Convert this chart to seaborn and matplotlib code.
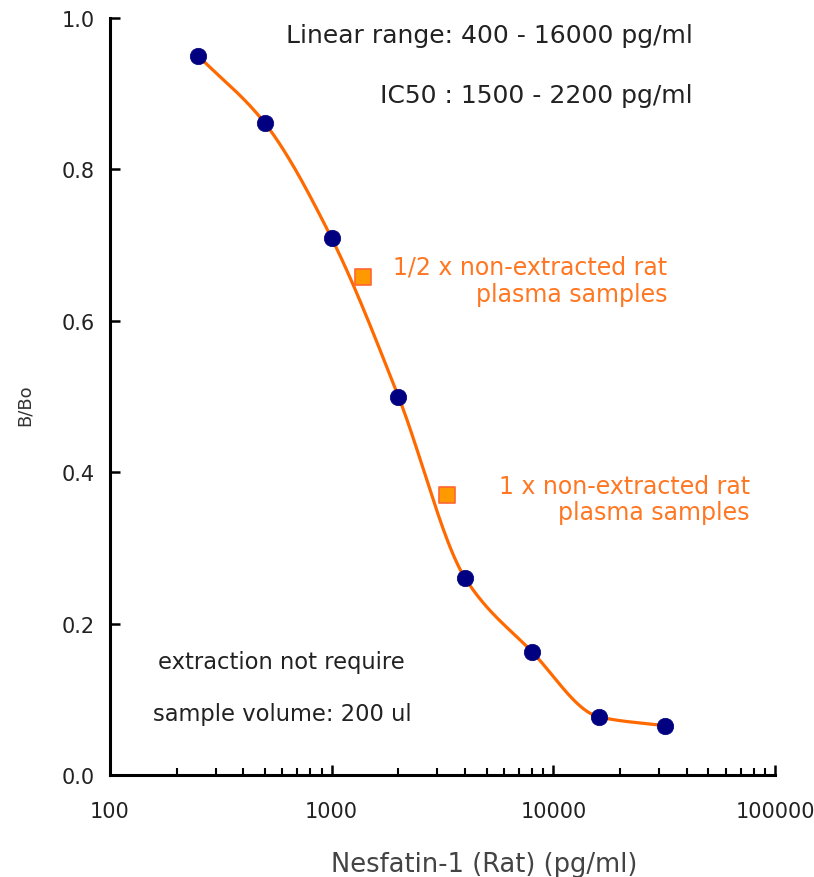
import numpy as np
import pandas as pd
import matplotlib
matplotlib.use("Agg")
import matplotlib.pyplot as plt
import seaborn as sns
from matplotlib.ticker import LogLocator, FixedLocator, NullFormatter

# ---- data ----
conc = [250, 500, 1000, 2000, 4000, 8000, 16000, 32000]
bbo = [0.950, 0.861, 0.709, 0.500, 0.260, 0.163, 0.077, 0.065]
sample_conc = [1390, 3320]
sample_bbo = [0.658, 0.370]
x_ticks = [100, 1000, 10000, 100000]
y_ticks = [0.0, 0.2, 0.4, 0.6, 0.8, 1.0]

sns.set_theme(style="white")
plt.rcParams['font.family'] = ['DejaVu Sans']

W, H = 814, 878
fig = plt.figure(figsize=(W / 100, H / 100), dpi=100)
ax = fig.add_axes([110 / W, 1 - 776 / H, (775 - 110) / W, (776 - 19) / H])

# smooth monotone (PCHIP) curve through the standard points, in log-x
def pchip(x, y, xs):
    x = np.asarray(x, float); y = np.asarray(y, float)
    h = np.diff(x); d = np.diff(y) / h
    n = len(x); m = np.zeros(n)
    for k in range(1, n - 1):
        if d[k - 1] * d[k] > 0:
            w1 = 2 * h[k] + h[k - 1]; w2 = h[k] + 2 * h[k - 1]
            m[k] = (w1 + w2) / (w1 / d[k - 1] + w2 / d[k])
    m[0] = d[0]; m[-1] = d[-1]
    idx = np.clip(np.searchsorted(x, xs) - 1, 0, n - 2)
    t = (xs - x[idx]) / h[idx]
    h00 = 2 * t**3 - 3 * t**2 + 1; h10 = t**3 - 2 * t**2 + t
    h01 = -2 * t**3 + 3 * t**2; h11 = t**3 - t**2
    return h00 * y[idx] + h10 * h[idx] * m[idx] + h01 * y[idx + 1] + h11 * h[idx] * m[idx + 1]

lx = np.log10(conc)
xs = np.linspace(lx[0], lx[-1], 400)
curve = pd.DataFrame({"x": 10 ** xs, "y": pchip(lx, bbo, xs)})
std = pd.DataFrame({"x": conc, "y": bbo})
smp = pd.DataFrame({"x": sample_conc, "y": sample_bbo})

sns.lineplot(data=curve, x="x", y="y", ax=ax, color="#FF6A00", lw=2.3, zorder=2)
sns.scatterplot(data=std, x="x", y="y", ax=ax, color="#000080", s=140,
                edgecolor="#000080", linewidth=0.5, zorder=3)
sns.scatterplot(data=smp, x="x", y="y", ax=ax, color="#FF9900", marker="s", s=130,
                edgecolor="#FF6633", linewidth=1.2, zorder=4)

ax.set_xscale("log")
ax.set_xlim(100, 100000)
ax.set_ylim(0, 1.0)
ax.xaxis.set_major_locator(FixedLocator(x_ticks))
ax.set_xticklabels([str(v) for v in x_ticks])
ax.xaxis.set_minor_locator(LogLocator(base=10, subs=np.arange(2, 10)))
ax.xaxis.set_minor_formatter(NullFormatter())
ax.set_yticks(y_ticks)
ax.set_yticklabels([f"{v:.1f}" for v in y_ticks])

for s in ["top", "right"]:
    ax.spines[s].set_visible(False)
for s in ["left", "bottom"]:
    ax.spines[s].set_color("black")
    ax.spines[s].set_linewidth(2.2)

ax.tick_params(axis="both", which="both", bottom=True, left=True, top=False, right=False,
               direction="in")
ax.tick_params(axis="both", which="major", length=7, width=1.8,
               labelsize=15, colors="black", pad=11)
ax.tick_params(axis="x", which="major", pad=19)
ax.tick_params(axis="x", which="minor", length=5, width=1.5, colors="black")
ax.tick_params(axis="y", which="minor", length=0)
for lab in ax.get_xticklabels() + ax.get_yticklabels():
    lab.set_color("#222222")

ax.set_xlabel("Nesfatin-1 (Rat) (pg/ml)", fontsize=18.5, color="#444444", labelpad=21)
ax.xaxis.label.set_x((484 - 110) / 665)
ax.set_ylabel("B/Bo", fontsize=13, color="#333333", labelpad=20)
ax.yaxis.label.set_y(1 - (405 - 19) / 757)

def ft(px, py, s, **kw):
    fig.text(px / W, 1 - py / H, s, **kw)

ft(693, 36, "Linear range: 400 - 16000 pg/ml", ha="right", va="center", fontsize=18, color="#222222")
ft(693, 96, "IC50 : 1500 - 2200 pg/ml", ha="right", va="center", fontsize=18, color="#222222")
ft(667, 268, "1/2 x non-extracted rat", ha="right", va="center", fontsize=17, color="#FF7722")
ft(667, 295, "plasma samples", ha="right", va="center", fontsize=17, color="#FF7722")
ft(750, 487, "1 x non-extracted rat", ha="right", va="center", fontsize=17, color="#FF7722")
ft(750, 513, "plasma samples", ha="right", va="center", fontsize=17, color="#FF7722")
ft(158, 662, "extraction not require", ha="left", va="center", fontsize=16.3, color="#222222")
ft(153, 715, "sample volume: 200 ul", ha="left", va="center", fontsize=16.3, color="#222222")

fig.savefig("out.png", dpi=100, facecolor="white")
